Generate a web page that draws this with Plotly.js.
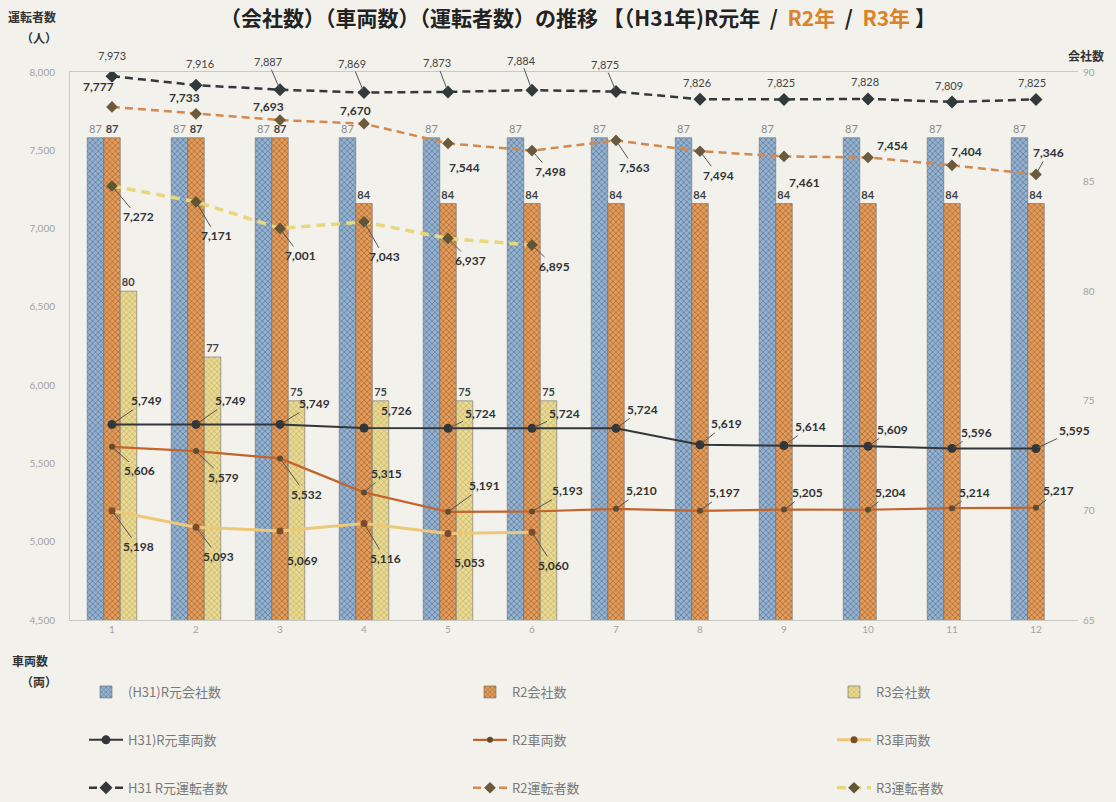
<!DOCTYPE html>
<html><head><meta charset="utf-8">
<script src="https://cdn.plot.ly/plotly-3.0.1.min.js"></script>
<style>html,body{margin:0;padding:0;background:#f2f1ec;}#chart{width:1116px;height:802px;}</style>
</head><body><div id="chart"></div>
<script>
// ---- data ----
const months = ['1','2','3','4','5','6','7','8','9','10','11','12'];
const monthsR3 = ['1','2','3','4','5','6'];
const companiesH31 = [87,87,87,87,87,87,87,87,87,87,87,87];
const companiesR2  = [87,87,87,84,84,84,84,84,84,84,84,84];
const companiesR3  = [80,77,75,75,75,75];
const vehiclesH31 = [5749,5749,5749,5726,5724,5724,5724,5619,5614,5609,5596,5595];
const vehiclesR2  = [5606,5579,5532,5315,5191,5193,5210,5197,5205,5204,5214,5217];
const vehiclesR3  = [5198,5093,5069,5116,5053,5060];
const driversH31 = [7973,7916,7887,7869,7873,7884,7875,7826,7825,7828,7809,7825];
const driversR2  = [7777,7733,7693,7670,7544,7498,7563,7494,7461,7454,7404,7346];
const driversR3  = [7272,7171,7001,7043,6937,6895];
const names = {
  cH31:'(H31)R元会社数', cR2:'R2会社数', cR3:'R3会社数',
  vH31:'H31)R元車両数', vR2:'R2車両数', vR3:'R3車両数',
  dH31:'H31 R元運転者数', dR2:'R2運転者数', dR3:'R3運転者数'
};

// ---- label placement (pixel offsets: dx, dy, leader line) ----
const offDH31 = [[0,-21,0],[4,-22,0],[-12,-28,1],[-12,-29,1],[-11,-29,1],[-11,-30,1],[-11,-27,1],[-3,-17,0],[-3,-17,0],[-3,-17,0],[-3,-16,0],[-4,-17,0]];
const offDR2  = [[-14,-20,0],[-12,-16,0],[-12,-14,0],[-9,-13,0],[16,24,1],[18,21,1],[18,27,1],[18,24,1],[20,26,0],[24,-12,0],[14,-14,0],[12,-22,1]];
const offDR3  = [[26,31,1],[20,34,1],[20,27,1],[20,35,1],[22,22,1],[22,21,1]];
const offVH31 = [[34,-24,1],[34,-24,1],[34,-21,1],[32,-18,0],[32,-15,1],[32,-15,1],[26,-19,1],[26,-21,1],[26,-19,1],[24,-17,1],[24,-16,1],[38,-18,1]];
const offVR2  = [[27,24,1],[27,26,1],[26,36,1],[22,-19,1],[36,-26,1],[35,-21,1],[25,-18,1],[24,-18,1],[23,-17,1],[22,-17,1],[22,-16,1],[22,-17,1]];
const offVR3  = [[26,36,1],[22,29,1],[22,30,1],[21,35,1],[21,29,1],[21,33,1]];

const fmt = v => v.toLocaleString('en-US');
const labFont = {family:'Lato, "Noto Sans", sans-serif', size:12, color:'#333', weight:'bold'};
const labFontLight = {family:'Lato, "Noto Sans", sans-serif', size:11, color:'#444'};

function labels(xs, vals, offs, font){
  return vals.map((v,i)=>{
    const o = offs[i];
    const a = {x: months.indexOf(xs[i]), y: v, xref:'x', yref:'y2', text: fmt(v), font: font};
    if (o[2]) {
      Object.assign(a, {showarrow:true, arrowhead:0, arrowwidth:1, arrowcolor:'#555', ax:o[0], ay:o[1], standoff:2});
    } else {
      Object.assign(a, {showarrow:false, xshift:o[0], yshift:-o[1]});
    }
    return a;
  });
}

const barLine = {color:'#6b6b6b', width:0.6};
const traces = [
  {type:'bar', name:names.cH31, x:months, y:companiesH31, yaxis:'y', legend:'legend', legendgroup:'g1',
   marker:{color:'#8aa6c4', line:barLine, pattern:{shape:'x', size:4, solidity:0.35, fgcolor:'#587ca2', bgcolor:'#98b2cd'}},
   text:companiesH31.map(String), textposition:'outside', cliponaxis:false, constraintext:'none',
   textfont:{family:'Lato, sans-serif', size:11, color:'#888'}},
  {type:'bar', name:names.cR2, x:months, y:companiesR2, yaxis:'y', legend:'legend2', legendgroup:'g2',
   marker:{color:'#d58d4a', line:barLine, pattern:{shape:'x', size:4, solidity:0.35, fgcolor:'#b4682e', bgcolor:'#df9d5e'}},
   text:companiesR2.map(String), textposition:'outside', cliponaxis:false, constraintext:'none',
   textfont:{family:'Lato, sans-serif', size:11, color:'#444', weight:'bold'}},
  {type:'bar', name:names.cR3, x:monthsR3, y:companiesR3, yaxis:'y', legend:'legend3', legendgroup:'g3',
   marker:{color:'#e2d186', line:barLine, pattern:{shape:'x', size:4, solidity:0.3, fgcolor:'#c6b262', bgcolor:'#e8d994'}},
   text:companiesR3.map(String), textposition:'outside', cliponaxis:false, constraintext:'none',
   textfont:{family:'Lato, sans-serif', size:11, color:'#444', weight:'bold'}},
  {type:'scatter', mode:'lines+markers', name:names.vH31, x:months, y:vehiclesH31, yaxis:'y2', legend:'legend', legendgroup:'g4',
   line:{color:'#30363a', width:2}, marker:{symbol:'circle', size:9, color:'#30363a'}},
  {type:'scatter', mode:'lines+markers', name:names.vR2, x:months, y:vehiclesR2, yaxis:'y2', legend:'legend2', legendgroup:'g5',
   line:{color:'#c4642c', width:2.2}, marker:{symbol:'circle', size:6, color:'#5d4b32'}},
  {type:'scatter', mode:'lines+markers', name:names.vR3, x:monthsR3, y:vehiclesR3, yaxis:'y2', legend:'legend3', legendgroup:'g6',
   line:{color:'#ecc979', width:3}, marker:{symbol:'circle', size:7, color:'#7a4c2c'}},
  {type:'scatter', mode:'lines+markers', name:names.dH31, x:months, y:driversH31, yaxis:'y2', legend:'legend', legendgroup:'g7',
   line:{color:'#33383c', width:2.5, dash:'8px,5px'}, marker:{symbol:'diamond', size:10, color:'#33383c'}},
  {type:'scatter', mode:'lines+markers', name:names.dR2, x:months, y:driversR2, yaxis:'y2', legend:'legend2', legendgroup:'g8',
   line:{color:'#d4894e', width:2.5, dash:'8px,5px'}, marker:{symbol:'diamond', size:9, color:'#6b5b3c'}},
  {type:'scatter', mode:'lines+markers', name:names.dR3, x:monthsR3, y:driversR3, yaxis:'y2', legend:'legend3', legendgroup:'g9',
   line:{color:'#e8d77c', width:3.5, dash:'9px,6px'}, marker:{symbol:'diamond', size:9, color:'#5e5634'}}
];

const tickFont = {family:'Lato, sans-serif', size:10, color:'#a3a3a3'};
const legBase = {orientation:'v', xref:'container', yref:'container', xanchor:'left', yanchor:'top',
  y:1-677/802, tracegroupgap:28, bgcolor:'rgba(0,0,0,0)', itemwidth:34, traceorder:'grouped',
  font:{family:'"Noto Sans CJK JP", sans-serif', size:13, color:'#7a7a7a'}};
const axisLab = {family:'"Noto Sans CJK JP", sans-serif', size:12, color:'#333', weight:'bold'};
function axLab(text, yp, dx, dy){
  return {xref:'paper', yref:'paper', x: dx > 0 ? 1 : 0, y: yp, xshift: dx, yshift: dy, text: text,
    showarrow:false, font:axisLab, xanchor:'center', yanchor:'middle'};
}

const annotations = [
  ...labels(months, driversH31, offDH31, labFontLight),
  ...labels(months, driversR2, offDR2, labFont),
  ...labels(monthsR3, driversR3, offDR3, labFont),
  ...labels(months, vehiclesH31, offVH31, labFont),
  ...labels(months, vehiclesR2, offVR2, labFont),
  ...labels(monthsR3, vehiclesR3, offVR3, labFont),
  axLab('運転者数', 1, -38, 56),
  axLab('（人）', 1, -31, 35),
  axLab('会社数', 1, 8, 17),
  axLab('車両数', 0, -40, -40),
  axLab('（両）', 0, -31, -61)
];

const layout = {
  width:1116, height:802,
  margin:{l:70, r:38, t:72, b:182, autoexpand:false},
  paper_bgcolor:'#f2f1ec', plot_bgcolor:'#f2f1ec',
  title:{text:'（会社数）（車両数）（運転者数）の推移 【（H31年)R元年  /  <span style="color:#d9832c">R2年</span>  /  <span style="color:#d9832c">R3年</span> 】',
    x:578/1116, xanchor:'center', xref:'container', y:1-19/802, yanchor:'middle', yref:'container',
    font:{family:'"Noto Sans CJK JP", sans-serif', size:21, color:'#222', weight:'bold'}},
  barmode:'group', bargap:0.41, bargroupgap:0,
  xaxis:{type:'category', range:[-0.5, 11.5], autorange:false, tickfont:tickFont, showline:true, linecolor:'#c9c9c4', mirror:true, ticks:'', showgrid:false, zeroline:false},
  yaxis:{range:[65,90], dtick:5, side:'right', showgrid:false, zeroline:false, tickfont:tickFont, ticks:'', ticklabelstandoff:4},
  yaxis2:{range:[4500,8000], dtick:500, tickformat:',', side:'left', overlaying:'y', showgrid:false, zeroline:false,
    tickfont:tickFont, ticks:'', ticklabelstandoff:12, showline:true, linecolor:'#c9c9c4'},
  showlegend:true,
  legend:Object.assign({}, legBase, {x:84/1116}),
  legend2:Object.assign({}, legBase, {x:468/1116}),
  legend3:Object.assign({}, legBase, {x:832/1116}),
  annotations:annotations
};

Plotly.newPlot('chart', traces, layout, {displayModeBar:false, staticPlot:true});
</script>
</body></html>
